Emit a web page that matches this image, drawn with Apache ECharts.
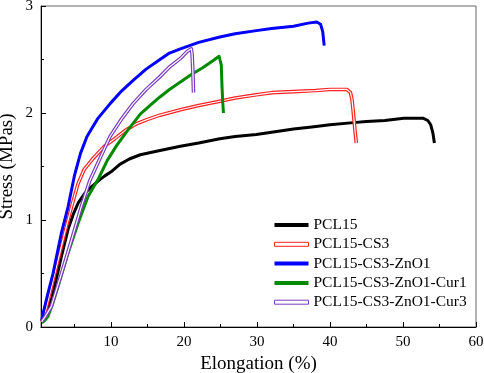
<!DOCTYPE html>
<html>
<head>
<meta charset="utf-8">
<script src="https://cdn.jsdelivr.net/npm/echarts@6/dist/echarts.min.js"></script>
<style>
  html, body { margin: 0; padding: 0; background: #fff; }
  #chart01 { width: 484px; height: 373px; }
</style>
</head>
<body>
<div id="chart01"></div>
<script>
// 数据 (elongation %, stress MPa)
var names = ['PCL15', 'PCL15-CS3', 'PCL15-CS3-ZnO1', 'PCL15-CS3-ZnO1-Cur1', 'PCL15-CS3-ZnO1-Cur3'];
var xMajorTicks = [10, 20, 30, 40, 50, 60];
var xMinorTicks = [5, 15, 25, 35, 45, 55];

var pcl15 = [[0.5,0.05],[1.0,0.1],[1.8,0.25],[2.5,0.45],[3.2,0.66],[4.1,0.91],[4.8,1.05],[5.5,1.16],[6.4,1.25],[7.3,1.31],[8.5,1.38],[9.1,1.41],[10,1.45],[11.2,1.52],[12.5,1.57],[14,1.61],[16.7,1.65],[19.5,1.69],[22,1.72],[24.9,1.76],[27,1.78],[29.9,1.8],[32,1.82],[35,1.85],[37.5,1.87],[40,1.89],[43.2,1.91],[45,1.92],[47.5,1.93],[50.1,1.95],[52.8,1.95],[53.4,1.93],[53.8,1.89],[54.1,1.81],[54.3,1.72]];
var pcl15Cs3 = [[0.5,0.05],[0.9,0.12],[1.37,0.25],[2.5,0.56],[3.65,0.88],[4.57,1.12],[5.48,1.34],[6.3,1.47],[7.6,1.58],[9.1,1.69],[10.5,1.76],[12,1.84],[13.5,1.9],[15,1.94],[16.7,1.98],[19.5,2.03],[22,2.07],[24.9,2.11],[27,2.14],[29.9,2.17],[32,2.19],[35,2.2],[38,2.21],[40,2.22],[42.3,2.22],[42.8,2.19],[43.0,2.13],[43.2,2.0],[43.4,1.85],[43.6,1.72]];
var pcl15Cs3Zno1 = [[0.5,0.06],[0.7,0.13],[1.3,0.3],[2.05,0.5],[3.2,0.88],[4.1,1.12],[5.0,1.42],[5.8,1.62],[6.7,1.78],[8.2,1.95],[9.9,2.09],[11.5,2.21],[13.1,2.31],[14.8,2.41],[16.7,2.5],[18,2.56],[19.5,2.6],[22,2.66],[24.9,2.71],[27,2.74],[29.9,2.77],[32,2.79],[35,2.81],[37,2.84],[38.2,2.85],[38.7,2.83],[39.0,2.76],[39.2,2.63]];
var pcl15Cur1 = [[0.5,0.04],[0.9,0.06],[1.37,0.1],[2.0,0.22],[2.74,0.38],[4.1,0.69],[5.48,0.97],[6.85,1.22],[8.3,1.39],[9.5,1.56],[10.8,1.7],[12.3,1.84],[14,1.99],[15.5,2.08],[16.7,2.15],[18,2.22],[19.5,2.29],[21,2.36],[22.5,2.42],[24,2.49],[24.8,2.53],[25.1,2.45],[25.2,2.25],[25.3,2.1],[25.4,2.0]];
var pcl15Cur3 = [[0.5,0.05],[1.0,0.1],[1.8,0.19],[3.2,0.5],[4.57,0.81],[5.9,1.12],[7.1,1.37],[8.3,1.55],[9.86,1.78],[11.5,1.95],[13.05,2.09],[14.8,2.22],[16.7,2.34],[18,2.43],[19.5,2.51],[20.5,2.58],[21.0,2.6],[21.1,2.55],[21.2,2.4],[21.3,2.19]];

var font = 'Liberation Serif';

function solid(name, data, color) {
  return {
    name: name, type: 'line', data: data, symbol: 'none',
    lineStyle: { color: color, width: 3, join: 'round' }, itemStyle: { color: color }
  };
}
// 双线(空心)效果: 粗彩线 + 细白线
function hollow(name, data, color) {
  return [
    {
      name: name, type: 'line', data: data, symbol: 'none',
      lineStyle: { color: color, width: 3.6, join: 'round' }, itemStyle: { color: color }
    },
    {
      name: name + '_inner', type: 'line', data: data, symbol: 'none', silent: true,
      lineStyle: { color: '#fff', width: 1.2, join: 'round' }
    }
  ];
}

var chart01 = echarts.init(document.getElementById('chart01'));
var option = {
  animation: false,
  textStyle: { fontFamily: font },
  grid: {
    left: 41, right: 8, top: 6, bottom: 46,
    outerBoundsMode: 'none',
    show: true, borderColor: '#666', borderWidth: 1
  },
  //图例
  legend: {
    orient: 'vertical',
    left: 274,
    top: 216,
    padding: 0,
    itemWidth: 34,
    itemHeight: 4,
    itemGap: 1.3,
    textStyle: { fontFamily: font, fontSize: 15.5, color: '#000', lineHeight: 18 },
    data: [
      { name: names[0], icon: 'rect', itemStyle: { color: '#000' } },
      { name: names[1], icon: 'rect', itemStyle: { color: '#fff', borderColor: '#ff2020', borderWidth: 1 } },
      { name: names[2], icon: 'rect', itemStyle: { color: '#0000ff' } },
      { name: names[3], icon: 'rect', itemStyle: { color: '#008a00' } },
      { name: names[4], icon: 'rect', itemStyle: { color: '#fff', borderColor: '#7a3dc0', borderWidth: 1 } }
    ]
  },
  // x轴
  xAxis: [
    {
      type: 'value', min: 0.4, max: 60,
      name: 'Elongation (%)', nameLocation: 'middle', nameGap: 27,
      nameTextStyle: { fontFamily: font, fontSize: 19, color: '#000' },
      axisLine: { lineStyle: { color: '#000', width: 1 } },
      axisTick: { inside: true, length: 5, customValues: xMajorTicks, lineStyle: { color: '#000' } },
      axisLabel: { customValues: xMajorTicks, fontFamily: font, fontSize: 15, color: '#000', margin: 8 },
      splitLine: { show: false }
    },
    {
      type: 'value', min: 0.4, max: 60, position: 'bottom',
      axisLine: { show: false },
      axisTick: { inside: true, length: 3, customValues: xMinorTicks, lineStyle: { color: '#000' } },
      axisLabel: { show: false },
      splitLine: { show: false }
    }
  ],
  // y轴
  yAxis: {
    type: 'value', min: 0, max: 3, interval: 1,
    name: 'Stress (MPas)', nameLocation: 'middle', nameGap: 24, nameMoveOverlap: false,
    nameTextStyle: { fontFamily: font, fontSize: 19, color: '#000' },
    axisLine: { show: true, lineStyle: { color: '#000', width: 1 } },
    axisTick: { show: true, inside: true, length: 5, lineStyle: { color: '#000' } },
    minorTick: { show: true, splitNumber: 2, length: 3, lineStyle: { color: '#000' } },
    axisLabel: { fontFamily: font, fontSize: 15, color: '#000', margin: 8 },
    splitLine: { show: false }
  },
  // 数据
  series: [].concat(
    [solid(names[0], pcl15, '#000')],
    hollow(names[1], pcl15Cs3, '#ff2020'),
    [solid(names[2], pcl15Cs3Zno1, '#0000ff')],
    [solid(names[3], pcl15Cur1, '#008a00')],
    hollow(names[4], pcl15Cur3, '#7a3dc0')
  )
};
chart01.setOption(option);
</script>
</body>
</html>
